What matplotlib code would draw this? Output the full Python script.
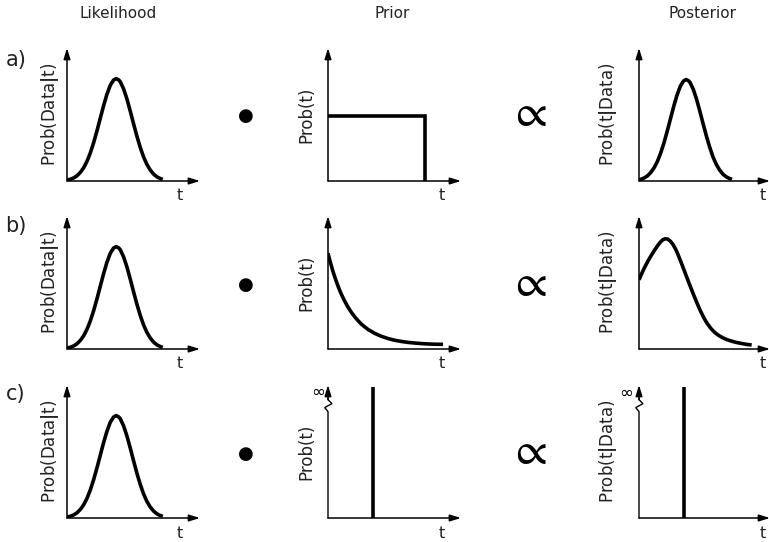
import matplotlib
matplotlib.use("Agg")
import matplotlib.pyplot as plt

plt.rcParams['font.family'] = ['DejaVu Sans']
plt.rcParams['mathtext.fontset'] = 'dejavusans'

W, H = 769, 542

# ---- data (axes units 0..1) ----
col_titles = ["Likelihood", "Prior", "Posterior"]
row_labels = ["a)", "b)", "c)"]
ylabels = [r"Prob(Data$\mathbf{|}$t)", "Prob(t)", r"Prob(t$\mathbf{|}$Data)"]
xlabel = "t"

like_t = [0.0, 0.025, 0.05, 0.075, 0.10, 0.125, 0.15, 0.175, 0.20, 0.225, 0.25,
          0.275, 0.30, 0.325, 0.35, 0.37, 0.39, 0.40, 0.425, 0.45, 0.475, 0.50,
          0.525, 0.55, 0.575, 0.60, 0.625, 0.65, 0.675, 0.70, 0.72]
like_y = [0.007, 0.013, 0.023, 0.039, 0.064, 0.099, 0.147, 0.210, 0.287, 0.376,
          0.471, 0.566, 0.651, 0.719, 0.759, 0.77, 0.759, 0.747, 0.694, 0.619,
          0.528, 0.432, 0.339, 0.255, 0.183, 0.126, 0.084, 0.053, 0.032, 0.019, 0.012]

post_a_t = [0.0, 0.015, 0.04, 0.065, 0.09, 0.115, 0.14, 0.165, 0.19, 0.215, 0.24,
            0.265, 0.29, 0.315, 0.34, 0.36, 0.38, 0.39, 0.415, 0.44, 0.465, 0.49,
            0.515, 0.54, 0.565, 0.59, 0.615, 0.64, 0.665, 0.69, 0.71]
post_a_y = [0.008, 0.013, 0.023, 0.039, 0.064, 0.099, 0.146, 0.209, 0.285, 0.373,
            0.467, 0.561, 0.645, 0.712, 0.752, 0.763, 0.752, 0.740, 0.688, 0.613,
            0.523, 0.428, 0.336, 0.253, 0.181, 0.125, 0.083, 0.052, 0.032, 0.019, 0.012]

prior_a_t = [0.0, 0.73, 0.73]
prior_a_y = [0.49, 0.49, 0.0]

prior_b_t = [0.0, 0.0125, 0.025, 0.0375, 0.05, 0.0625, 0.075, 0.0875, 0.10, 0.1125,
             0.125, 0.15, 0.175, 0.20, 0.225, 0.25, 0.275, 0.30, 0.35, 0.40, 0.45,
             0.50, 0.55, 0.60, 0.65, 0.70, 0.75, 0.80, 0.865]
prior_b_y = [0.72, 0.671, 0.626, 0.583, 0.544, 0.508, 0.474, 0.442, 0.413, 0.386,
             0.361, 0.315, 0.277, 0.243, 0.214, 0.188, 0.167, 0.148, 0.118, 0.096,
             0.079, 0.066, 0.057, 0.050, 0.045, 0.041, 0.038, 0.036, 0.035]

post_b_t = [0.0, 0.02, 0.04, 0.06, 0.08, 0.10, 0.12, 0.14, 0.16, 0.18, 0.20, 0.22,
            0.24, 0.26, 0.28, 0.30, 0.32, 0.34, 0.36, 0.38, 0.40, 0.42, 0.44, 0.46,
            0.48, 0.50, 0.52, 0.55, 0.58, 0.61, 0.64, 0.67, 0.70, 0.74, 0.78, 0.82, 0.86]
post_b_y = [0.52, 0.566, 0.608, 0.646, 0.681, 0.714, 0.745, 0.774, 0.800, 0.820,
            0.829, 0.826, 0.810, 0.785, 0.750, 0.705, 0.655, 0.604, 0.552, 0.500,
            0.450, 0.400, 0.352, 0.306, 0.264, 0.226, 0.193, 0.153, 0.123, 0.101,
            0.084, 0.071, 0.061, 0.050, 0.042, 0.035, 0.030]

delta_prior_t = [0.34, 0.34]
delta_post_t = [0.345, 0.345]
delta_y = [0.0, 0.985]

# ---- layout (pixels) ----
col_left = [67, 328, 639]
col_width = [133, 133, 131]
row_bottom = [181, 349, 518]
ax_h = 133
LW = 2.6

fig = plt.figure(figsize=(W / 100, H / 100), dpi=100)


def fx(x):
    return x / W


def fy(y):
    return 1 - y / H


def arrow(ax, x0, y0, x1, y1):
    ax.annotate('', xy=(x1, y1), xytext=(x0, y0),
                arrowprops=dict(arrowstyle='-|>,head_length=0.65,head_width=0.2',
                                lw=1.1, color='black', shrinkA=0, shrinkB=0),
                annotation_clip=False)


axes = {}
for r in range(3):
    for c in range(3):
        ax = fig.add_axes([fx(col_left[c]), fy(row_bottom[r]),
                           col_width[c] / W, ax_h / H])
        ax.set_xlim(0, 1)
        ax.set_ylim(0, 1)
        ax.axis('off')
        arrow(ax, 0, 0, 1, 0)
        if r == 2 and c > 0:
            ax.plot([0, 0, -0.025, 0.03, 0, 0], [0, 0.80, 0.83, 0.86, 0.89, 0.9],
                    color='black', lw=1.0, clip_on=False, solid_joinstyle='miter')
            arrow(ax, 0, 0.89, 0, 1)
        else:
            arrow(ax, 0, 0, 0, 1)
        axes[(r, c)] = ax

curve = dict(color='black', lw=LW, solid_capstyle='butt', solid_joinstyle='round')
for r in range(3):
    axes[(r, 0)].plot(like_t, like_y, **curve)
axes[(0, 1)].plot(prior_a_t, prior_a_y, color='black', lw=LW,
                  solid_capstyle='butt', solid_joinstyle='miter')
axes[(0, 2)].plot(post_a_t, post_a_y, **curve)
axes[(1, 1)].plot(prior_b_t, prior_b_y, **curve)
axes[(1, 2)].plot(post_b_t, post_b_y, **curve)
axes[(2, 1)].plot(delta_prior_t, delta_y, **curve)
axes[(2, 2)].plot(delta_post_t, delta_y, **curve)

# titles
title_x = [118, 392, 703]
for c in range(3):
    fig.text(fx(title_x[c]), fy(14), col_titles[c], ha='center', va='center',
             fontsize=11, color='#222222')

# row labels, dots, proportional signs
row_lab_y = [60, 226, 394]
dot_y = [116, 285, 454]
for r in range(3):
    fig.text(fx(16), fy(row_lab_y[r]), row_labels[r], ha='center', va='center',
             fontsize=15, color='#222222')
    fig.text(fx(246), fy(dot_y[r]), u"\u25CF", ha='center', va='center',
             fontsize=13, color='black')
    fig.text(fx(528), fy(dot_y[r] - 2), r"$\propto$", ha='center', va='center',
             fontsize=33, color='black', math_fontfamily='stix')

# y labels and t labels
ylab_off = [17, 22, 31]
t_x = [180, 442, 763]
for r in range(3):
    mid = row_bottom[r] - ax_h / 2
    for c in range(3):
        fig.text(fx(col_left[c] - ylab_off[c]), fy(mid), ylabels[c], rotation=90,
                 ha='center', va='center', fontsize=12, color='#222222')
        fig.text(fx(t_x[c]), fy(row_bottom[r] + 15), xlabel, ha='center',
                 va='center', fontsize=11.5, color='#222222')

# infinity signs
fig.text(fx(318), fy(392), u"\u221E", ha='center', va='center', fontsize=12)
fig.text(fx(626), fy(393), u"\u221E", ha='center', va='center', fontsize=12)

fig.savefig("out.png", dpi=100)
